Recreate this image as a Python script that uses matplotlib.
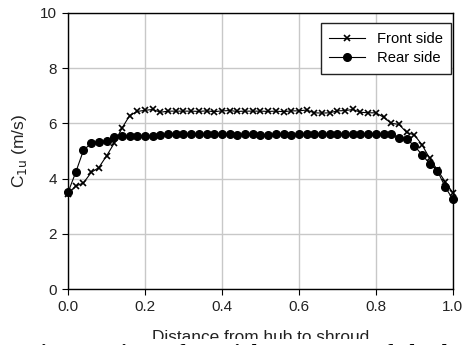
import matplotlib
matplotlib.use('Agg')
import matplotlib.pyplot as plt

# distance from hub to shroud (normalised)
dist = [0.00, 0.02, 0.04, 0.06, 0.08, 0.10, 0.12, 0.14, 0.16, 0.18,
        0.20, 0.22, 0.24, 0.26, 0.28, 0.30, 0.32, 0.34, 0.36, 0.38,
        0.40, 0.42, 0.44, 0.46, 0.48, 0.50, 0.52, 0.54, 0.56, 0.58,
        0.60, 0.62, 0.64, 0.66, 0.68, 0.70, 0.72, 0.74, 0.76, 0.78,
        0.80, 0.82, 0.84, 0.86, 0.88, 0.90, 0.92, 0.94, 0.96, 0.98, 1.00]

front = [3.45, 3.73, 3.84, 4.22, 4.40, 4.82, 5.28, 5.82, 6.28, 6.43,
         6.47, 6.50, 6.40, 6.44, 6.44, 6.44, 6.44, 6.43, 6.45, 6.42,
         6.45, 6.46, 6.43, 6.44, 6.44, 6.44, 6.43, 6.44, 6.42, 6.45,
         6.45, 6.48, 6.38, 6.37, 6.38, 6.45, 6.46, 6.50, 6.40, 6.38,
         6.38, 6.22, 6.00, 5.96, 5.67, 5.58, 5.22, 4.73, 4.31, 3.89, 3.49]

rear = [3.50, 4.23, 5.02, 5.28, 5.33, 5.37, 5.50, 5.54, 5.55, 5.55,
        5.55, 5.55, 5.56, 5.60, 5.60, 5.61, 5.60, 5.60, 5.60, 5.60,
        5.61, 5.62, 5.59, 5.60, 5.60, 5.59, 5.59, 5.60, 5.61, 5.59,
        5.60, 5.60, 5.60, 5.60, 5.60, 5.61, 5.60, 5.60, 5.60, 5.60,
        5.60, 5.60, 5.60, 5.48, 5.42, 5.19, 4.86, 4.54, 4.28, 3.70, 3.25]

xticks = [0.0, 0.2, 0.4, 0.6, 0.8, 1.0]
yticks = [0, 2, 4, 6, 8, 10]

plt.rcParams['font.family'] = ['Liberation Sans', 'DejaVu Sans']

fig = plt.figure(figsize=(4.63, 3.45), dpi=100)
ax = fig.add_axes([0.147, 0.162, 0.831, 0.801])

ax.plot(dist, front, color='black', lw=0.8, marker='x', ms=4.5, mew=1.2,
        label='Front side', clip_on=False, zorder=3)
ax.plot(dist, rear, color='black', lw=0.8, marker='o', ms=5.5,
        label='Rear side', clip_on=False, zorder=3)

ax.set_xlim(0, 1)
ax.set_ylim(0, 10)
ax.set_xticks(xticks)
ax.set_xticklabels(['%.1f' % t for t in xticks])
ax.set_yticks(yticks)
ax.grid(True, color='#c8c8c8', lw=1.0)
ax.set_axisbelow(True)
for s in ax.spines.values():
    s.set_color('black')
    s.set_linewidth(1.0)
ax.tick_params(direction='out', length=4, width=0.8, labelsize=11,
               labelcolor='#222222', pad=4)
ax.set_ylabel('C$_{\\mathrm{1u}}$ (m/s)', fontsize=12.5, labelpad=8,
              color='#222222')

leg = ax.legend(loc='upper right', bbox_to_anchor=(1.0, 0.967), fancybox=False,
                framealpha=1, edgecolor='#222222', fontsize=10.6,
                handlelength=2.4, borderpad=0.6, labelspacing=0.35,
                borderaxespad=0.1)
leg.get_frame().set_linewidth(1.0)

fig.text(0.563, 0.0435, 'Distance from hub to shroud', ha='center', va='top',
         fontsize=12.4, color='#222222')
fig.text(0.058, 0.004, 'Fig. 12: Circumferential component of absolute velocity',
         ha='left', va='top', fontsize=16, fontweight='bold',
         family=['Liberation Serif', 'DejaVu Serif'],
         bbox=dict(facecolor='white', edgecolor='none', pad=3.0))

fig.savefig('out.png', dpi=100)
